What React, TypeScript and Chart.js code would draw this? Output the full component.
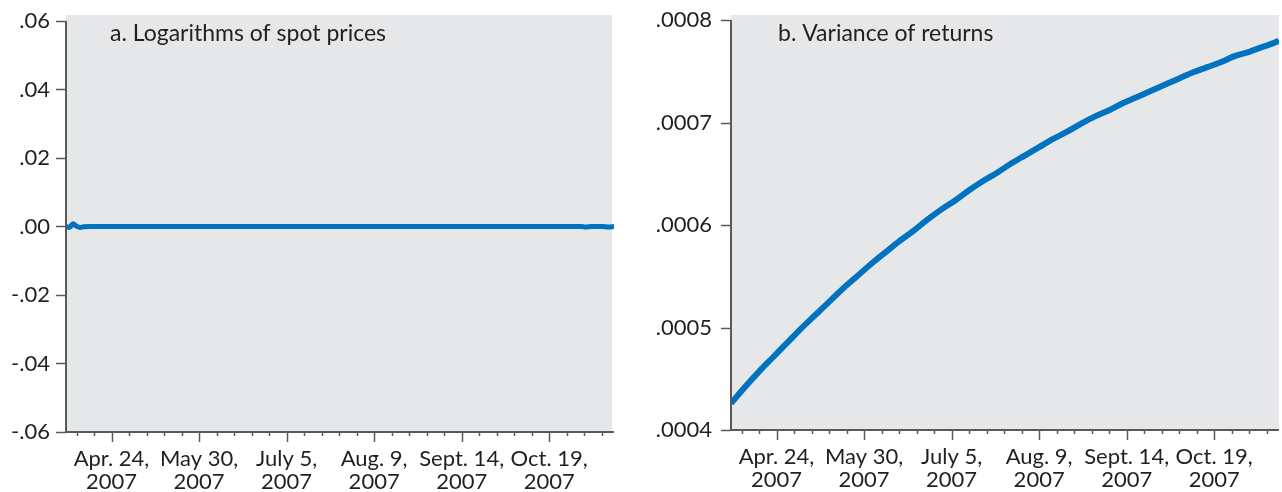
import React, { useEffect, useRef } from "react";
import { Chart, registerables } from "chart.js";

Chart.register(...registerables);

// ---------- data ----------
// x positions are trading days counted from the first observation
const majorTickDays = [13, 38, 63, 88, 113, 138];
const majorTickLabels = [
  ["Apr. 24,", "2007"],
  ["May 30,", "2007"],
  ["July 5,", "2007"],
  ["Aug. 9,", "2007"],
  ["Sept. 14,", "2007"],
  ["Oct. 19,", "2007"],
];
const minorTickDays = [3, 8, 18, 23, 28, 33, 43, 48, 53, 58, 68, 73, 78, 83, 93, 98, 103, 108, 118, 123, 128, 133, 143, 148, 153];

const leftYTicks = [0.06, 0.04, 0.02, 0, -0.02, -0.04, -0.06];
const leftYLabels = [".06", ".04", ".02", ".00", "-.02", "-.04", "-.06"];
const rightYTicks = [0.0008, 0.0007, 0.0006, 0.0005, 0.0004];
const rightYLabels = [".0008", ".0007", ".0006", ".0005", ".0004"];

// panel a: logarithms of spot prices
const spotDays = [0, 1, 2, 3, 4, 5, 7, 20, 50, 80, 110, 140, 147, 148.5, 150, 153, 155, 156.5];
const spotLogs = [0, -0.0003, 0.0008, 0.0001, -0.0003, -0.0001, 0, 0, 0, 0, 0, 0, 0, -0.00015, 0, 0, -0.00015, 0];

// panel b: variance of returns
const varianceDays = [0, 4, 8, 12, 16, 20, 24, 28, 32, 36, 40, 44, 48, 52, 56, 60, 64, 68, 72, 76, 80, 84, 88, 92, 96, 100, 104, 108, 112, 116, 120, 124, 128, 132, 136, 140, 144, 148, 152, 156, 156.5];
const varianceValues = [
  0.000426, 0.000442, 0.000457, 0.000471, 0.000485, 0.000499, 0.000512, 0.000525, 0.000538, 0.00055,
  0.000562, 0.000573, 0.000584, 0.000594, 0.000605, 0.000615, 0.000624, 0.000634, 0.000643, 0.000651,
  0.00066, 0.000668, 0.000676, 0.000684, 0.000691, 0.000699, 0.000706, 0.000712, 0.000719, 0.000725,
  0.000731, 0.000737, 0.000743, 0.000749, 0.000754, 0.000759, 0.000765, 0.000769, 0.000774, 0.000779, 0.00078,
];

// ---------- style ----------
const FONT = "Lato, 'Open Sans', 'DejaVu Sans', sans-serif";
const BG = "#e6e7e9";
const BLUE = "#0072bf";
const AXIS = "#58595b";
const TEXT = "#231f20";

const axesPlugin = {
  id: "econAxes",
  beforeDatasetsDraw(chart: any, _a: any, opts: any) {
    const { ctx, chartArea: a } = chart;
    ctx.save();
    ctx.fillStyle = BG;
    ctx.fillRect(a.left, a.top, a.right - a.left - opts.bgTrim, a.bottom - a.top);
    ctx.restore();
  },
  afterDatasetsDraw(chart: any, _a: any, opts: any) {
    const { ctx, chartArea: a, scales } = chart;
    const x = scales.x;
    const y = scales.y;
    ctx.save();
    ctx.strokeStyle = AXIS;
    ctx.lineWidth = 2;
    const topPx = y.getPixelForValue(opts.yTop);
    ctx.beginPath();
    ctx.moveTo(a.left, topPx);
    ctx.lineTo(a.left, a.bottom);
    ctx.lineTo(a.right, a.bottom);
    ctx.stroke();
    ctx.lineWidth = 1.5;
    for (const t of y.ticks) {
      const py = Math.round(y.getPixelForValue(t.value)) + 0.5;
      ctx.beginPath();
      ctx.moveTo(a.left - 10, py);
      ctx.lineTo(a.left, py);
      ctx.stroke();
    }
    for (const t of x.ticks) {
      const px = Math.round(x.getPixelForValue(t.value)) + 0.5;
      const len = majorTickDays.includes(t.value) ? 10 : 4;
      ctx.beginPath();
      ctx.moveTo(px, a.bottom);
      ctx.lineTo(px, a.bottom + len);
      ctx.stroke();
    }
    ctx.fillStyle = TEXT;
    ctx.font = `23px ${FONT}`;
    ctx.textBaseline = "alphabetic";
    ctx.textAlign = "left";
    ctx.fillText(opts.title, a.left + opts.titleDx, opts.titleBaseline);
    ctx.restore();
  },
};

function makeConfig(p: {
  days: number[];
  values: number[];
  lineWidth: number;
  yMin: number;
  yMax: number;
  yTicks: number[];
  yLabels: string[];
  yWidth: number;
  yPad: number;
  xHeight: number;
  rightPad: number;
  title: string;
  titleDx: number;
  titleBaseline: number;
  bgTrim: number;
}): any {
  const allTicks = [...majorTickDays, ...minorTickDays].sort((a, b) => a - b);
  return {
    type: "line",
    data: {
      datasets: [
        {
          data: p.days.map((d, i) => ({ x: d, y: p.values[i] })),
          borderColor: BLUE,
          borderWidth: p.lineWidth,
          pointRadius: 0,
          cubicInterpolationMode: "monotone",
          fill: false,
        },
      ],
    },
    options: {
      animation: false,
      responsive: false,
      maintainAspectRatio: false,
      layout: { padding: { top: 15, right: p.rightPad, bottom: 0, left: 0 } },
      plugins: {
        legend: { display: false },
        tooltip: { enabled: false },
        econAxes: {
          yTop: p.yTicks[0],
          title: p.title,
          titleDx: p.titleDx,
          titleBaseline: p.titleBaseline,
          bgTrim: p.bgTrim,
        },
      },
      scales: {
        x: {
          type: "linear",
          min: 0,
          max: 156.5,
          afterBuildTicks: (s: any) => {
            s.ticks = allTicks.map((v) => ({ value: v }));
          },
          afterFit: (s: any) => {
            s.height = p.xHeight;
            s.paddingLeft = 0;
            s.paddingRight = 0;
          },
          grid: { display: false, drawTicks: false },
          border: { display: false },
          ticks: {
            autoSkip: false,
            maxRotation: 0,
            minRotation: 0,
            padding: 15,
            color: TEXT,
            font: { family: FONT, size: 22, lineHeight: 1.05 },
            callback: (v: number) => {
              const i = majorTickDays.indexOf(v);
              return i >= 0 ? majorTickLabels[i] : "";
            },
          },
        },
        y: {
          type: "linear",
          min: p.yMin,
          max: p.yMax,
          afterBuildTicks: (s: any) => {
            s.ticks = p.yTicks.map((v) => ({ value: v }));
          },
          afterFit: (s: any) => {
            s.width = p.yWidth;
            s.paddingTop = 0;
            s.paddingBottom = 0;
          },
          grid: { display: false, drawTicks: false },
          border: { display: false },
          ticks: {
            padding: p.yPad,
            color: TEXT,
            font: { family: FONT, size: 22 },
            callback: (_v: number, i: number) => p.yLabels[i],
          },
        },
      },
    },
    plugins: [axesPlugin],
  };
}

function Panel(props: { cfg: any; left: number; width: number }) {
  const ref = useRef<HTMLCanvasElement | null>(null);
  useEffect(() => {
    if (!ref.current) return;
    const chart = new Chart(ref.current, props.cfg);
    return () => chart.destroy();
  }, []);
  return (
    <canvas
      ref={ref}
      width={props.width}
      height={492}
      style={{ position: "absolute", left: props.left, top: 0, width: props.width, height: 492 }}
    />
  );
}

export default function App() {
  const leftCfg = makeConfig({
    days: spotDays,
    values: spotLogs,
    lineWidth: 5,
    yMin: -0.06,
    yMax: 0.06175,
    yTicks: leftYTicks,
    yLabels: leftYLabels,
    yWidth: 66,
    yPad: 16,
    xHeight: 60,
    rightPad: 26,
    title: "a. Logarithms of spot prices",
    titleDx: 44,
    titleBaseline: 41,
    bgTrim: 2,
  });
  const rightCfg = makeConfig({
    days: varianceDays,
    values: varianceValues,
    lineWidth: 6,
    yMin: 0.0004,
    yMax: 0.0008049,
    yTicks: rightYTicks,
    yLabels: rightYLabels,
    yWidth: 91,
    yPad: 19,
    xHeight: 62,
    rightPad: 3,
    title: "b. Variance of returns",
    titleDx: 47,
    titleBaseline: 41,
    bgTrim: 0,
  });
  return (
    <div style={{ position: "absolute", left: 0, top: 0, width: 1282, height: 492, background: "#fff" }}>
      <Panel cfg={leftCfg} left={0} width={640} />
      <Panel cfg={rightCfg} left={640} width={642} />
    </div>
  );
}
